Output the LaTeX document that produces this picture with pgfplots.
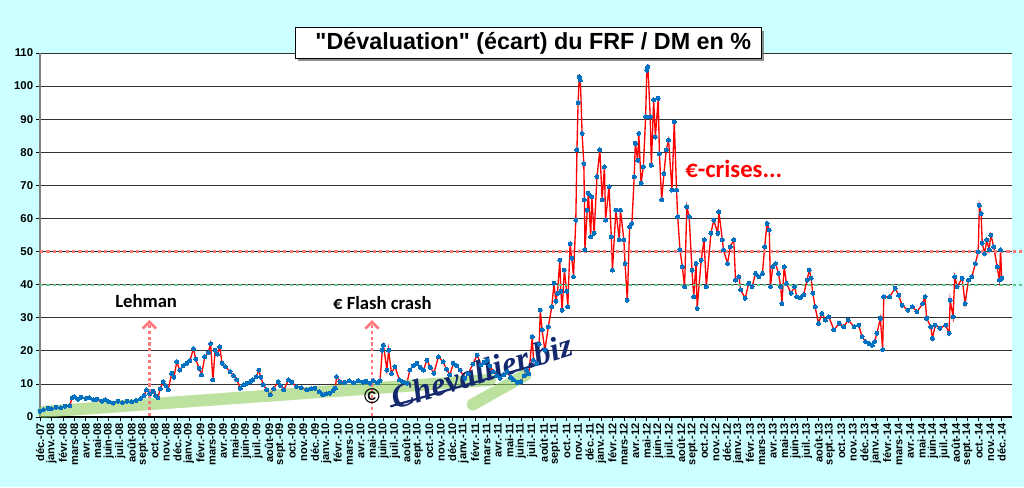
\documentclass[border=0pt]{standalone}
\usepackage{fontspec}
\setmainfont{Liberation Sans}
\newfontfamily\titlefont{Liberation Sans}[Ligatures=TeXOff]
\newfontfamily\calibri{Carlito}
\newfontfamily\serifit{Liberation Serif}
\usepackage{pgfplots}
\pgfplotsset{compat=1.18}
\usetikzlibrary{arrows.meta,shadows}
\definecolor{bgcyan}{RGB}{204,255,255}
\definecolor{ptblue}{RGB}{0,112,192}
\definecolor{bandgreen}{RGB}{146,206,96}
\definecolor{arrowpink}{RGB}{255,120,124}
\definecolor{navy}{RGB}{20,40,110}
\definecolor{dotred}{RGB}{255,120,120}
\definecolor{dotgreen}{RGB}{100,200,140}
\begin{document}
\begin{tikzpicture}
\path[use as bounding box, fill=bgcyan] (-30pt,-52.5pt) rectangle (738pt,312.75pt);
\begin{axis}[
  at={(0,0)}, anchor=south west,
  scale only axis, width=729pt, height=273pt,
  xmin=0, xmax=84.9, ymin=0, ymax=110,
  clip=false,
  axis background/.style={fill=white},
  axis x line*=bottom, axis y line*=left,
  x axis line style={black, line width=0.8pt},
  y axis line style={black!50, line width=1.2pt},
  ytick={0,10,...,110},
  ymajorgrids, grid style={black!80, line width=0.6pt},
  xtick={0,...,84},
  xticklabels={déc.-07,
  janv.-08,févr.-08,mars-08,avr.-08,mai-08,juin-08,juil.-08,août-08,sept.-08,oct.-08,nov.-08,déc.-08,
  janv.-09,févr.-09,mars-09,avr.-09,mai-09,juin-09,juil.-09,août-09,sept.-09,oct.-09,nov.-09,déc.-09,
  janv.-10,févr.-10,mars-10,avr.-10,mai-10,juin-10,juil.-10,août-10,sept.-10,oct.-10,nov.-10,déc.-10,
  janv.-11,févr.-11,mars-11,avr.-11,mai-11,juin-11,juil.-11,août-11,sept.-11,oct.-11,nov.-11,déc.-11,
  janv.-12,févr.-12,mars-12,avr.-12,mai-12,juin-12,juil.-12,août-12,sept.-12,oct.-12,nov.-12,déc.-12,
  janv.-13,févr.-13,mars-13,avr.-13,mai-13,juin-13,juil.-13,août-13,sept.-13,oct.-13,nov.-13,déc.-13,
  janv.-14,févr.-14,mars-14,avr.-14,mai-14,juin-14,juil.-14,août-14,sept.-14,oct.-14,nov.-14,déc.-14},
  tick align=outside, major tick length=3pt,
  tick style={black, line width=0.5pt},
  xtick pos=bottom, ytick pos=left,
  /pgf/number format/assume math mode=true,
  xticklabel style={rotate=90, anchor=east, inner sep=1.5pt, font=\bfseries\fontsize{8.3}{9}\selectfont},
  yticklabel style={font=\bfseries\fontsize{8.5}{9}\selectfont, inner sep=2pt},
]
\addplot[color=red, line width=1pt, mark=*, mark size=1.5pt, mark options={solid, draw=ptblue, fill=ptblue, line width=0pt}] coordinates {
(0,1.8) (0.3,2.2) (0.7,2.6) (1.0,2.5) (1.4,3.0) (1.8,2.8) (2.2,3.3) (2.6,3.4) (2.8,5.8) (3.0,6.1)
(3.3,5.4) (3.6,6.0) (4.0,5.6) (4.3,5.8) (4.7,5.2) (5.0,5.4) (5.4,4.8) (5.7,5.2) (6.0,4.6) (6.4,4.2)
(6.8,4.8) (7.2,4.4) (7.6,4.8) (8.0,4.6) (8.4,5.0) (8.8,5.6) (9.1,6.5) (9.3,8.2) (9.6,7.0) (9.9,7.8)
(10.1,6.5) (10.3,5.8) (10.5,8.5) (10.75,10.7) (11.0,9.5) (11.2,8.2) (11.5,13.2) (11.7,12.0) (11.95,16.7) (12.2,14.2)
(12.5,15.5) (12.8,16.2) (13.1,17.0) (13.4,20.7) (13.6,17.5) (13.9,14.7) (14.1,12.7) (14.4,18.2) (14.7,19.5) (14.9,22.2)
(15.1,11.2) (15.3,20.2) (15.5,19.0) (15.7,21.2) (15.9,16.2) (16.2,15.2) (16.6,13.7) (16.9,12.5) (17.2,11.2) (17.5,8.7)
(17.8,9.8) (18.1,10.2) (18.4,10.8) (18.6,11.2) (18.9,12.2) (19.1,14.2) (19.3,12.0) (19.5,9.7) (19.8,8.2) (20.1,6.7)
(20.4,8.5) (20.8,10.7) (21.0,9.5) (21.3,8.2) (21.7,11.2) (22.0,10.5) (22.4,9.2) (22.8,8.8) (23.3,8.2) (23.7,8.5)
(24.0,8.7) (24.4,7.6) (24.7,6.7) (25.0,7.0) (25.3,7.2) (25.6,8.0) (25.8,8.7) (25.9,12.2) (26.2,10.7) (26.6,10.5)
(27.0,10.9) (27.4,10.4) (27.8,11.0) (28.2,10.5) (28.5,10.8) (28.8,10.2) (29.1,10.9) (29.5,10.4) (29.7,11.0) (29.9,20.2)
(30.0,21.7) (30.3,14.2) (30.45,20.2) (30.7,13.2) (31.0,15.2) (31.4,11.2) (31.7,10.6) (32.05,10.2) (32.3,14.2) (32.6,15.5)
(32.9,16.2) (33.2,15.0) (33.5,14.2) (33.8,17.2) (34.1,15.0) (34.4,13.2) (34.8,18.2) (35.2,16.7) (35.5,14.5) (35.8,12.7)
(36.1,16.2) (36.4,15.5) (36.7,14.2) (37.1,11.7) (37.4,13.0) (37.8,16.0) (38.2,18.7) (38.5,15.7) (38.8,16.5) (39.05,17.2)
(39.3,15.5) (39.6,13.7) (39.9,12.5) (40.2,11.7) (40.5,12.8) (40.8,13.7) (41.1,12.0) (41.35,11.2) (41.7,10.5) (42.0,10.7)
(42.3,12.5) (42.5,14.2) (42.7,13.0) (43.0,24.3) (43.1,17.2) (43.4,16.2) (43.6,22) (43.7,32.3) (43.85,26.3) (44.1,20.2)
(44.4,27.3) (44.7,33.3) (44.9,40.4) (45.05,35) (45.2,37.4) (45.4,47.4) (45.5,38) (45.6,32.3) (45.8,44.4) (46.0,38)
(46.1,33.3) (46.3,52.4) (46.45,48) (46.6,42.4) (46.8,59.5) (46.9,80.7) (47.0,95) (47.1,102.8) (47.2,101.8) (47.35,85.7)
(47.5,76.6) (47.55,65.6) (47.6,50.5) (47.8,62.5) (47.9,67.6) (48.1,54.5) (48.2,66.6) (48.4,55.5) (48.65,72.6) (48.9,80.7)
(49.1,65.6) (49.3,75.6) (49.4,59.5) (49.7,69.6) (49.9,54.5) (50.0,44.4) (50.3,62.5) (50.6,53.5) (50.7,62.5) (51.0,53.5)
(51.1,46.4) (51.3,35.3) (51.5,57.5) (51.7,58.5) (51.9,72.6) (52.0,82.7) (52.2,77.6) (52.3,85.7) (52.5,70.6) (52.7,75.6)
(52.9,90.7) (53.0,104.8) (53.1,105.8) (53.3,90.7) (53.4,76.1) (53.6,95.8) (53.75,84.6) (54.0,96.3) (54.1,79.6) (54.3,65.6)
(54.5,73.6) (54.7,80.7) (54.9,83.7) (55.2,68.6) (55.4,89.2) (55.6,68.6) (55.7,60.5) (55.9,50.5) (56.1,45.4) (56.3,39.4)
(56.5,63.5) (56.7,60.5) (56.95,44.4) (57.1,36.4) (57.3,46.4) (57.4,32.8) (57.75,47.4) (58.0,53.5) (58.2,39.4) (58.6,55.5)
(58.85,59.5) (59.2,55.5) (59.3,62.0) (59.6,53.5) (59.7,50.5) (60.05,46.4) (60.3,51.5) (60.6,53.5) (60.75,41.4) (61.05,42.4)
(61.2,38.4) (61.6,35.9) (61.9,40.4) (62.2,39.4) (62.5,43.4) (62.8,42.4) (63.1,43.4) (63.3,51.5) (63.5,58.5) (63.7,56.5)
(63.8,39.4) (64.0,45.4) (64.25,46.4) (64.5,43.4) (64.7,39.4) (64.8,34.3) (65.0,45.4) (65.2,40.4) (65.6,37.4) (65.9,39.4)
(66.1,36.4) (66.4,36.0) (66.7,36.9) (67.0,41.4) (67.2,44.4) (67.35,42) (67.5,37.4) (67.7,33.3) (68.0,28.3) (68.3,31.3)
(68.6,29.3) (68.9,30.3) (69.35,26.3) (69.8,28.3) (70.2,27.3) (70.6,29.3) (71.1,27.3) (71.5,27.8) (71.8,24.3) (72.1,22.8)
(72.4,22.2) (72.7,21.7) (72.9,22.8) (73.1,25.3) (73.4,29.8) (73.6,20.4) (73.7,36.3) (74.2,36.3) (74.7,38.9) (75.0,36.8)
(75.3,33.8) (75.8,32.3) (76.2,33.3) (76.6,31.8) (77.1,34.3) (77.3,36.3) (77.45,29.8) (77.8,27.3) (77.95,23.8) (78.2,27.8)
(78.6,26.8) (79.1,27.8) (79.4,25.3) (79.5,35.3) (79.75,30.3) (79.9,42.4) (80.1,39.4) (80.55,41.9) (80.8,34.3) (81.1,41.4)
(81.4,42.4) (81.7,46.4) (81.95,49.9) (82.05,64.0) (82.2,61.5) (82.3,52.5) (82.5,49.4) (82.7,53.5) (82.9,50.5) (83.05,55.0)
(83.3,51.5) (83.6,45.4) (83.8,41.4) (83.9,50.5) (84.0,41.9)
};
% green bands
\draw[bandgreen, line width=9pt, line cap=round, opacity=0.6] (axis cs:0.3,1.6) -- (axis cs:39.3,11.2);
\draw[bandgreen, line width=9pt, line cap=round, opacity=0.6] (axis cs:37.8,3.8) -- (axis cs:42.4,12.7);
% reference lines
\draw[dotred, line width=1.6pt, dash pattern=on 2.4pt off 2.4pt] (axis cs:0,50) -- (axis cs:86,50);
\draw[dotgreen, line width=1.6pt, dash pattern=on 2.4pt off 2.4pt] (axis cs:0,40) -- (axis cs:86,40);
% arrows
\draw[arrowpink, line width=2.2pt, dash pattern=on 2.4pt off 2pt, -{Straight Barb[length=5pt,width=10pt,line width=2pt]}] (axis cs:9.55,0.3) -- (axis cs:9.55,29.3);
\draw[arrowpink, line width=2.2pt, dash pattern=on 2.4pt off 2pt, -{Straight Barb[length=5pt,width=10pt,line width=2pt]}] (axis cs:29.0,0.3) -- (axis cs:29.0,29.3);
% texts
\node[font=\calibri\bfseries\fontsize{14}{16}\selectfont] at (axis cs:9.27,35.1) {Lehman};
\node[font=\calibri\bfseries\fontsize{14}{16}\selectfont] at (axis cs:29.9,34.4) {€ Flash crash};
\node[text=red, font=\calibri\bfseries\fontsize{18.5}{20}\selectfont] at (axis cs:60.6,74.9) {€-crises...};
% watermark
\node[rotate=17, text=navy, font=\serifit\bfseries\itshape\fontsize{25}{26}\selectfont] at (axis cs:38.6,13.8) {Chevallier.biz};
\draw[navy, line width=1.6pt] (axis cs:30.6,3.2) -- (axis cs:43.6,16.0);
\node[font=\bfseries\fontsize{16}{16}\selectfont] at (axis cs:29.0,6.3) {©};
\end{axis}
\node[draw=black, fill=white, line width=0.6pt, minimum width=349.5pt, minimum height=23pt, inner sep=0pt,
  drop shadow={shadow xshift=2.2pt, shadow yshift=-2.2pt, fill=black!55, opacity=0.8}] at (366pt,280.5pt) {};
\node[font=\titlefont\bfseries\fontsize{17.5}{20}\selectfont] at (370pt,280.5pt) {"Dévaluation" (écart) du FRF / DM en \%};
\end{tikzpicture}
\end{document}
